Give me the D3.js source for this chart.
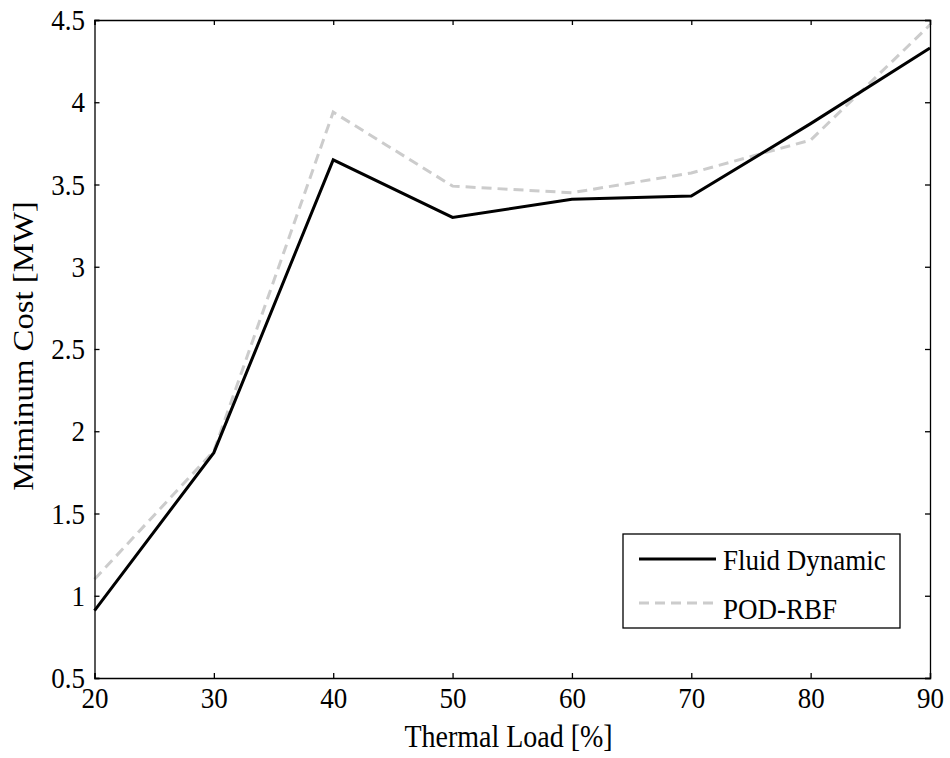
<!DOCTYPE html>
<html><head><meta charset="utf-8">
<script src="https://cdn.jsdelivr.net/npm/d3@7"></script>
<style>body{margin:0;background:#fff}svg{display:block}text{font-family:"Liberation Serif","Times New Roman",serif;fill:#000}</style>
</head><body><svg id="c" width="950" height="758"></svg>
<script>
const thermalLoad = [20, 30, 40, 50, 60, 70, 80, 90];
const fluidDynamic = [0.91, 1.87, 3.65, 3.30, 3.41, 3.43, 3.87, 4.33];
const podRbf = [1.10, 1.88, 3.94, 3.49, 3.45, 3.57, 3.77, 4.47];
const xTicks = [20, 30, 40, 50, 60, 70, 80, 90];
const yTicks = [0.5, 1, 1.5, 2, 2.5, 3, 3.5, 4, 4.5];
const seriesNames = ["Fluid Dynamic", "POD-RBF"];

const svg = d3.select("#c");
const L = 94.5, R = 930, T = 20, B = 678;
const SY = 1.13; // vertical stretch of glyphs
const FONT = '"Liberation Serif","Times New Roman",serif';
const x = d3.scaleLinear().domain([20, 90]).range([L, R]);
const y = d3.scaleLinear().domain([0.5, 4.5]).range([B, T]);

const g = svg.append("g");
const line = d3.line().x((d, i) => x(thermalLoad[i])).y(d => y(d));
g.append("path").datum(podRbf).attr("d", line).attr("fill", "none")
  .attr("stroke", "#cccccc").attr("stroke-width", 3).attr("stroke-dasharray", "10,6");
g.append("path").datum(fluidDynamic).attr("d", line).attr("fill", "none")
  .attr("stroke", "#000").attr("stroke-width", 3);

const tl = 5;
const ax = svg.append("g").attr("transform", `translate(0,${B})`)
  .call(d3.axisBottom(x).tickValues(xTicks).tickSize(-tl).tickFormat(d => d));
const axT = svg.append("g").attr("transform", `translate(0,${T})`)
  .call(d3.axisTop(x).tickValues(xTicks).tickSize(-tl).tickFormat(""));
const ay = svg.append("g").attr("transform", `translate(${L},0)`)
  .call(d3.axisLeft(y).tickValues(yTicks).tickSize(-tl).tickFormat(d => String(d)));
const ayR = svg.append("g").attr("transform", `translate(${R},0)`)
  .call(d3.axisRight(y).tickValues(yTicks).tickSize(-tl).tickFormat(""));
[ax, axT, ay, ayR].forEach(a => {
  a.select(".domain").attr("stroke", "#000").attr("stroke-width", 1.3);
  a.selectAll(".tick line").attr("stroke", "#000").attr("stroke-width", 1.3);
  a.selectAll("text").style("font-family", FONT).style("font-size", "27px").attr("fill", "#000");
});
ax.selectAll(".tick text").attr("x", 0).attr("y", 30 / SY).attr("dy", 0)
  .attr("transform", `scale(1,${SY})`);
ay.selectAll(".tick text").attr("x", -9.5).attr("y", 9.5 / SY).attr("dy", 0)
  .attr("transform", `scale(1,${SY})`);

svg.append("text").attr("transform", `translate(508.5,747) scale(1,${SY})`)
  .attr("text-anchor", "middle").style("font-size", "28px").text("Thermal Load [%]");
svg.append("text").attr("transform", `translate(33,346) scale(1,${SY}) rotate(-90)`)
  .attr("text-anchor", "middle").style("font-size", "29px").text("Miminum Cost [MW]");

const lg = svg.append("g");
lg.append("rect").attr("x", 623).attr("y", 534).attr("width", 277).attr("height", 94)
  .attr("fill", "#fff").attr("stroke", "#000").attr("stroke-width", 1.3);
const rows = [{ly: 559, ty: 570, c: "#000", da: null}, {ly: 603, ty: 619, c: "#cccccc", da: "10,6"}];
rows.forEach((r, i) => {
  const l = lg.append("line").attr("x1", 639).attr("x2", 716).attr("y1", r.ly).attr("y2", r.ly)
    .attr("stroke", r.c).attr("stroke-width", 3);
  if (r.da) l.attr("stroke-dasharray", r.da);
  lg.append("text").attr("transform", `translate(723,${r.ty}) scale(1,${SY})`)
    .style("font-size", "27px").text(seriesNames[i]);
});
</script></body></html>
